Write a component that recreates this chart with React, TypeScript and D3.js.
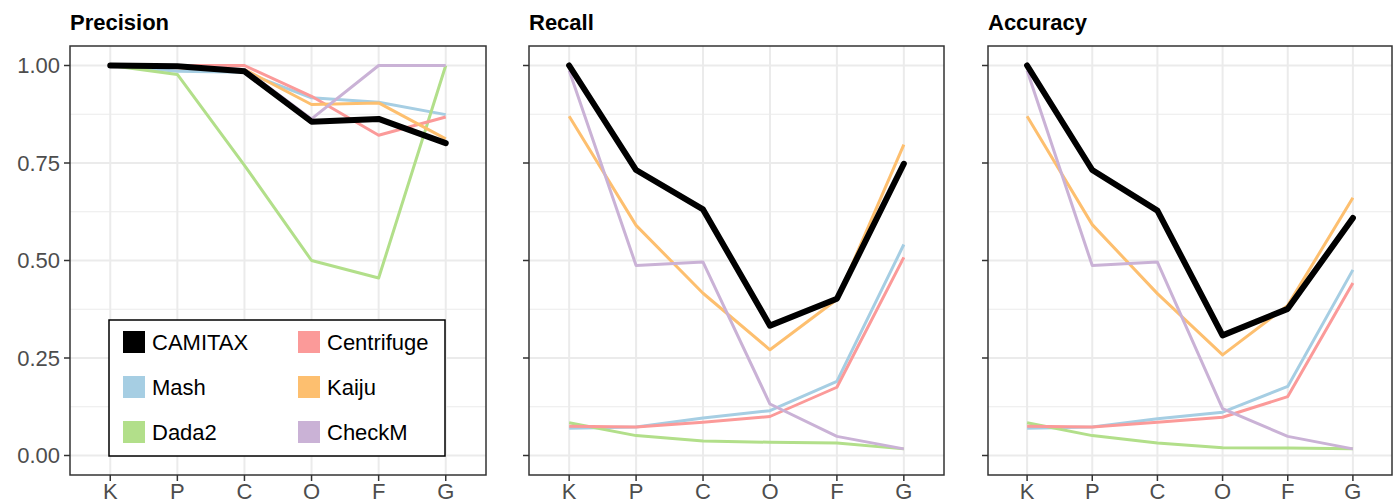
import React from 'react';
import * as d3 from 'd3';

// taxonomic ranks on the x axis
const ranks = ['K', 'P', 'C', 'O', 'F', 'G'];
const yTicks = [0, 0.25, 0.5, 0.75, 1];
const yMinor = [0.125, 0.375, 0.625, 0.875];

const tools = ['Mash', 'Dada2', 'Centrifuge', 'Kaiju', 'CheckM', 'CAMITAX'];
const legendOrder = ['CAMITAX', 'Mash', 'Dada2', 'Centrifuge', 'Kaiju', 'CheckM'];
const colors: Record<string, string> = {
  CAMITAX: '#000000',
  Centrifuge: '#FB9A99',
  Mash: '#A6CEE3',
  Kaiju: '#FDBF6F',
  Dada2: '#B2DF8A',
  CheckM: '#CAB2D6',
};

// Precision
const precCAMITAX = [1.0, 0.998, 0.985, 0.856, 0.863, 0.801];
const precCentrifuge = [1.0, 1.0, 1.0, 0.921, 0.821, 0.868];
const precMash = [1.0, 0.985, 0.983, 0.917, 0.906, 0.874];
const precKaiju = [1.0, 0.995, 0.99, 0.9, 0.904, 0.812];
const precDada2 = [1.0, 0.977, 0.744, 0.5, 0.455, 1.0];
const precCheckM = [1.0, 1.0, 0.99, 0.863, 1.0, 1.0];

// Recall
const recCAMITAX = [1.0, 0.732, 0.631, 0.333, 0.402, 0.748];
const recCentrifuge = [0.075, 0.073, 0.085, 0.1, 0.175, 0.508];
const recMash = [0.07, 0.073, 0.096, 0.115, 0.19, 0.541];
const recKaiju = [0.87, 0.59, 0.416, 0.271, 0.4, 0.797];
const recDada2 = [0.084, 0.051, 0.037, 0.034, 0.032, 0.017];
const recCheckM = [0.987, 0.487, 0.496, 0.132, 0.049, 0.017];

// Accuracy
const accCAMITAX = [1.0, 0.732, 0.628, 0.308, 0.376, 0.609];
const accCentrifuge = [0.075, 0.073, 0.085, 0.098, 0.151, 0.442];
const accMash = [0.07, 0.073, 0.094, 0.111, 0.177, 0.476];
const accKaiju = [0.87, 0.592, 0.415, 0.258, 0.385, 0.661];
const accDada2 = [0.084, 0.051, 0.032, 0.02, 0.019, 0.017];
const accCheckM = [0.987, 0.487, 0.496, 0.12, 0.049, 0.017];

const panels = [
  {
    title: 'Precision', left: 70, right: 486, showY: true, legend: true,
    series: { CAMITAX: precCAMITAX, Centrifuge: precCentrifuge, Mash: precMash, Kaiju: precKaiju, Dada2: precDada2, CheckM: precCheckM },
  },
  {
    title: 'Recall', left: 529, right: 944, showY: false, legend: false,
    series: { CAMITAX: recCAMITAX, Centrifuge: recCentrifuge, Mash: recMash, Kaiju: recKaiju, Dada2: recDada2, CheckM: recCheckM },
  },
  {
    title: 'Accuracy', left: 988, right: 1392, showY: false, legend: false,
    series: { CAMITAX: accCAMITAX, Centrifuge: accCentrifuge, Mash: accMash, Kaiju: accKaiju, Dada2: accDada2, CheckM: accCheckM },
  },
];

const TOP = 46;
const BOTTOM = 475;
const FONT = '"Liberation Sans", Arial, Helvetica, sans-serif';

const y = d3.scaleLinear().domain([-0.05, 1.05]).range([BOTTOM, TOP]);

function Panel({ p }: { p: any }) {
  const x = d3.scalePoint<string>().domain(ranks).range([p.left, p.right]).padding(0.6);
  const line = d3.line<number>()
    .x((_, i) => x(ranks[i]) as number)
    .y(d => y(d));

  return (
    <g>
      <text x={p.left} y={30} fontFamily={FONT} fontWeight="bold" fontSize={22} fill="#000">{p.title}</text>
      {/* grid */}
      {yMinor.map(t => (
        <line key={'mn' + t} x1={p.left} x2={p.right} y1={y(t)} y2={y(t)} stroke="#EBEBEB" strokeWidth={1} />
      ))}
      {yTicks.map(t => (
        <line key={'mj' + t} x1={p.left} x2={p.right} y1={y(t)} y2={y(t)} stroke="#EBEBEB" strokeWidth={2} />
      ))}
      {ranks.map(r => (
        <line key={'v' + r} x1={x(r)} x2={x(r)} y1={TOP} y2={BOTTOM} stroke="#EBEBEB" strokeWidth={2} />
      ))}
      {/* lines */}
      {tools.map(t => (
        <path key={t} d={line(p.series[t]) as string} fill="none" stroke={colors[t]}
          strokeWidth={t === 'CAMITAX' ? 6 : 3} strokeLinejoin="round" strokeLinecap={t === 'CAMITAX' ? 'round' : 'butt'} />
      ))}
      {/* border */}
      <rect x={p.left} y={TOP} width={p.right - p.left} height={BOTTOM - TOP} fill="none" stroke="#333333" strokeWidth={1.5} />
      {/* y ticks */}
      {yTicks.map(t => (
        <g key={'yt' + t}>
          <line x1={p.left - 6} x2={p.left} y1={y(t)} y2={y(t)} stroke="#333333" strokeWidth={1.5} />
          {p.showY && (
            <text x={p.left - 10} y={y(t)} dy="0.36em" textAnchor="end" fontFamily={FONT} fontSize={22} fill="#4D4D4D">
              {d3.format('.2f')(t)}
            </text>
          )}
        </g>
      ))}
      {/* x ticks */}
      {ranks.map(r => (
        <g key={'xt' + r}>
          <line x1={x(r)} x2={x(r)} y1={BOTTOM} y2={BOTTOM + 6} stroke="#333333" strokeWidth={1.5} />
          <text x={x(r)} y={BOTTOM + 24} textAnchor="middle" fontFamily={FONT} fontSize={22} fill="#4D4D4D">{r}</text>
        </g>
      ))}
      {p.legend && <Legend />}
    </g>
  );
}

function Legend() {
  const lx = 109, ly = 320, lw = 336, lh = 136;
  return (
    <g>
      <rect x={lx} y={ly} width={lw} height={lh} fill="#fff" stroke="#000" strokeWidth={1.5} />
      {legendOrder.map((t, i) => {
        const col = Math.floor(i / 3);
        const row = i % 3;
        const kx = lx + 14 + col * 175;
        const cy = ly + 22 + row * 45;
        return (
          <g key={t}>
            <rect x={kx} y={cy - 11} width={22} height={22} fill={colors[t]} />
            <text x={kx + 29} y={cy} dy="0.36em" fontFamily={FONT} fontSize={22} fill="#000">{t}</text>
          </g>
        );
      })}
    </g>
  );
}

export default function App() {
  return (
    <svg width={1393} height={504} style={{ position: 'absolute', left: 0, top: 0, background: '#fff' }}>
      {panels.map(p => <Panel key={p.title} p={p} />)}
    </svg>
  );
}
